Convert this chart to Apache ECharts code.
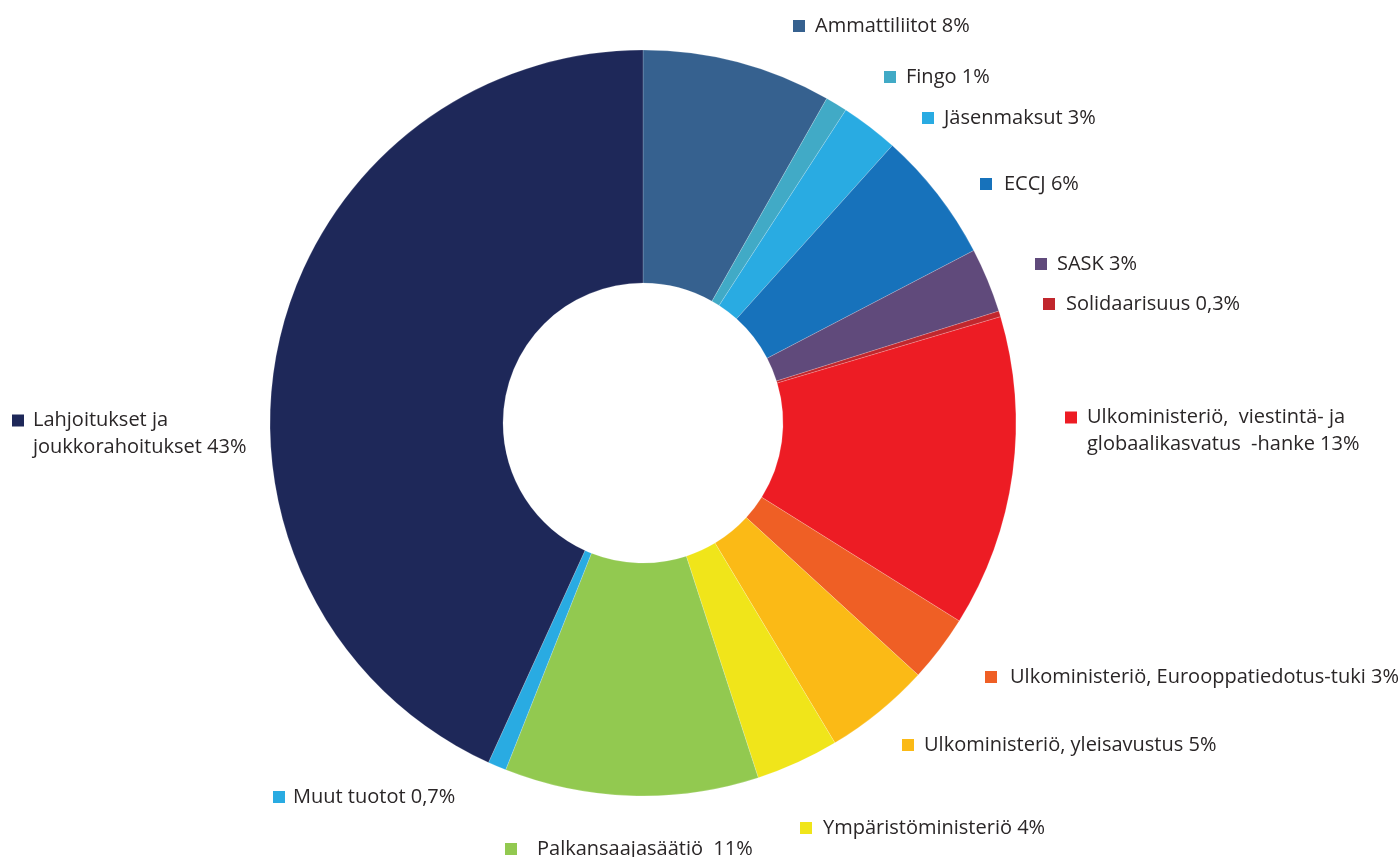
<!DOCTYPE html>
<html>
<head>
<meta charset="utf-8">
<script src="https://cdn.jsdelivr.net/npm/echarts@6/dist/echarts.min.js"></script>
<style>
  html, body { margin: 0; padding: 0; background: #ffffff; }
  #chart { width: 1400px; height: 857px; }
</style>
</head>
<body>
<div id="chart"></div>
<script>
// Categories in clockwise order starting at 12 o'clock
const categories = [
  'Ammattiliitot',
  'Fingo',
  'Jäsenmaksut',
  'ECCJ',
  'SASK',
  'Solidaarisuus',
  'Ulkoministeriö,  viestintä- ja\nglobaalikasvatus  -hanke',
  'Ulkoministeriö, Eurooppatiedotus-tuki',
  'Ulkoministeriö, yleisavustus',
  'Ympäristöministeriö',
  'Palkansaajasäätiö ',
  'Muut tuotot',
  'Lahjoitukset ja\njoukkorahoitukset'
];
// Percent shares (slice sizes)
const shares = [8.2, 0.95, 2.5, 5.7, 2.8, 0.25, 13.5, 2.9, 4.6, 3.6, 11.0, 0.8, 43.2];
// Printed percentage labels
const pctLabels = ['8%', '1%', '3%', '6%', '3%', '0,3%', '13%', '3%', '5%', '4%', '11%', '0,7%', '43%'];

// Styles / layout (not data)
const colors = ['#36618F', '#41AAC6', '#29ABE2', '#1772BB', '#604A7B', '#C1272D',
                '#ED1C24', '#EF5F25', '#FBBA16', '#F0E51A', '#92C950', '#29ABE2', '#1E2859'];
const labelPos = [
  [793, 26], [884, 77], [922, 118], [980, 184], [1035, 264], [1043, 304],
  [1065, 431], [985, 677], [902, 745], [800, 828], [505, 849], [273, 797], [12, 434]
];
const labelGap = [10, 10, 10, 12, 10, 11, 10, 13, 10, 11, 20, 8, 9];

const chart = echarts.init(document.getElementById('chart'));

const data = categories.map((name, i) => {
  const lines = name.split('\n');
  let fmt = '{sq' + i + '|}{g' + i + '|}{t|' + lines[0] + (lines.length === 1 ? ' ' + pctLabels[i] : '') + '}';
  if (lines.length > 1) {
    fmt += '\n{in' + i + '|}{t|' + lines[1] + ' ' + pctLabels[i] + '}';
  }
  const rich = { t: { fontSize: 20, color: '#2A2627', fontFamily: '"Open Sans", sans-serif', fontWeight: 400, lineHeight: 27 } };
  rich['sq' + i] = { width: 12, height: 12, backgroundColor: colors[i], verticalAlign: 'middle' };
  rich['g' + i] = { width: labelGap[i] };
  rich['in' + i] = { width: 12 + labelGap[i] };
  return {
    name: name,
    value: shares[i],
    itemStyle: { color: colors[i] },
    label: { formatter: fmt, rich: rich }
  };
});

chart.setOption({
  backgroundColor: '#ffffff',
  animation: false,
  series: [{
    type: 'pie',
    center: [643, 423],
    radius: [140, 373],
    startAngle: 90,
    clockwise: true,
    avoidLabelOverlap: false,
    itemStyle: { borderColor: 'rgba(255,255,255,0.3)', borderWidth: 0.6 },
    label: { show: true, position: 'outside' },
    labelLine: { show: false },
    labelLayout: function (params) {
      const p = labelPos[params.dataIndex];
      return { x: p[0], y: p[1], align: 'left', verticalAlign: 'middle', hideOverlap: false, moveOverlap: null };
    },
    emphasis: { disabled: true },
    data: data
  }]
});
</script>
</body>
</html>
